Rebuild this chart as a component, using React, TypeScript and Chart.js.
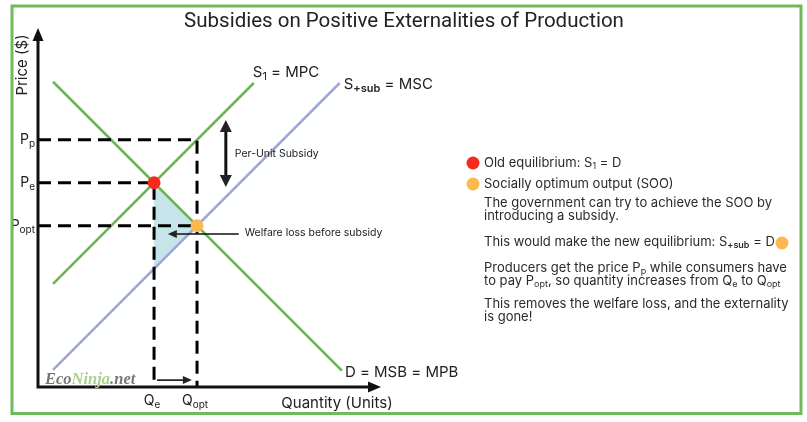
import React, { useEffect, useRef } from "react";
import { Chart, registerables } from "chart.js";
Chart.register(...registerables);

// ---- data (quantity / price units) ----
const demandQ = [0.35, 7.07];
const demandP = [7.1, 0.38];
const mpcQ = [0.35, 5.02];
const mpcP = [2.4, 7.07];
const mscQ = [0.35, 7.02];
const mscP = [0.4, 7.07];
const qTickValues = [2.7, 3.7];
const qTickMain = ["Q", "Q"];
const qTickSub = ["e", "opt"];
const pTickValues = [5.75, 4.75, 3.75];
const pTickMain = ["P", "P", "P"];
const pTickSub = ["p", "e", "opt"];
const oldEquilibrium = [2.7, 4.75];
const socialOptimum = [3.7, 3.75];
const welfareLossQ = [2.7, 3.7, 2.7];
const welfareLossP = [4.75, 3.75, 2.75];
const subsidyArrowQ = [4.37, 4.37];
const subsidyArrowP = [6.21, 4.65];
const welfareArrowQ = [4.67, 3.02];
const welfareArrowP = [3.56, 3.56];
const qShiftArrowQ = [2.77, 3.58];
const qShiftArrowP = [0.16, 0.16];

const FONT = "Inter, 'Noto Sans', sans-serif";
const GREEN = "#6cb556";
const BLUE = "#9ea7d9";
const RED = "#f42a1c";
const ORANGE = "#fdb94f";

type Seg = { t: string; sub?: boolean; bold?: boolean };

function drawRich(
  ctx: CanvasRenderingContext2D,
  segs: Seg[],
  x: number,
  y: number,
  size: number,
  align: "left" | "center" | "right" = "left",
  color = "#222"
) {
  const subSize = Math.round(size * 0.7);
  const fontFor = (s: Seg) =>
    `${s.bold ? "600 " : ""}${s.sub ? subSize : size}px ${FONT}`;
  let total = 0;
  for (const s of segs) {
    ctx.font = fontFor(s);
    total += ctx.measureText(s.t).width;
  }
  let cx = x;
  if (align === "center") cx = x - total / 2;
  if (align === "right") cx = x - total;
  ctx.fillStyle = color;
  ctx.textBaseline = "middle";
  ctx.textAlign = "left";
  for (const s of segs) {
    ctx.font = fontFor(s);
    ctx.fillText(s.t, cx, s.sub ? y + size * 0.28 : y);
    cx += ctx.measureText(s.t).width;
  }
}

function arrowHead(
  ctx: CanvasRenderingContext2D,
  tx: number,
  ty: number,
  dx: number,
  dy: number,
  len: number,
  half: number
) {
  const n = Math.hypot(dx, dy);
  const ux = dx / n;
  const uy = dy / n;
  ctx.beginPath();
  ctx.moveTo(tx, ty);
  ctx.lineTo(tx - ux * len - uy * half, ty - uy * len + ux * half);
  ctx.lineTo(tx - ux * len + uy * half, ty - uy * len - ux * half);
  ctx.closePath();
  ctx.fill();
}

const decorPlugin = {
  id: "decor",
  beforeDatasetsDraw(chart: any) {
    const ctx: CanvasRenderingContext2D = chart.ctx;
    const xs = chart.scales.x;
    const ys = chart.scales.y;
    ctx.save();
    ctx.fillStyle = "#c6e5ea";
    ctx.beginPath();
    welfareLossQ.forEach((q, i) => {
      const px = xs.getPixelForValue(q);
      const py = ys.getPixelForValue(welfareLossP[i]);
      if (i === 0) ctx.moveTo(px, py);
      else ctx.lineTo(px, py);
    });
    ctx.closePath();
    ctx.fill();
    ctx.restore();
  },
  afterDatasetsDraw(chart: any) {
    const ctx: CanvasRenderingContext2D = chart.ctx;
    const xs = chart.scales.x;
    const ys = chart.scales.y;
    const ca = chart.chartArea;
    const X = (v: number) => xs.getPixelForValue(v);
    const Y = (v: number) => ys.getPixelForValue(v);
    ctx.save();

    // axes
    ctx.strokeStyle = "#111";
    ctx.fillStyle = "#111";
    ctx.lineWidth = 3;
    ctx.beginPath();
    ctx.moveTo(X(0), Y(0) + 1.5);
    ctx.lineTo(X(0), ca.top + 10);
    ctx.moveTo(X(0) - 1.5, Y(0));
    ctx.lineTo(ca.right - 10, Y(0));
    ctx.stroke();
    arrowHead(ctx, X(0), ca.top, 0, -1, 13, 5.5);
    arrowHead(ctx, ca.right, Y(0), 1, 0, 13, 5.5);

    // tick labels
    qTickValues.forEach((q, i) => {
      drawRich(ctx, [{ t: qTickMain[i] }, { t: qTickSub[i], sub: true }], X(q) - 2, Y(0) + 14, 14, "center");
    });
    pTickValues.forEach((p, i) => {
      drawRich(ctx, [{ t: pTickMain[i] }, { t: pTickSub[i], sub: true }], X(0) - 3, Y(p), 14, "right");
    });

    // axis titles
    ctx.save();
    ctx.translate(22, 65);
    ctx.rotate(-Math.PI / 2);
    drawRich(ctx, [{ t: "Price ($)" }], 0, 0, 15, "center");
    ctx.restore();
    drawRich(ctx, [{ t: "Quantity (Units)" }], 337, 403, 15, "center");

    // curve labels
    drawRich(ctx, [{ t: "S" }, { t: "1", sub: true }, { t: " = MPC" }], X(mpcQ[1]) - 1, Y(mpcP[1]) - 11, 15, "left");
    drawRich(ctx, [{ t: "S" }, { t: "+sub", sub: true, bold: true }, { t: " = MSC" }], X(mscQ[1]) + 4, Y(mscP[1]) + 1, 15, "left");
    drawRich(ctx, [{ t: "D = MSB = MPB" }], X(demandQ[1]) + 3, Y(demandP[1]) + 2, 15, "left");

    // per-unit subsidy arrow
    ctx.lineWidth = 3;
    const sx = X(subsidyArrowQ[0]);
    const sy1 = Y(subsidyArrowP[0]);
    const sy2 = Y(subsidyArrowP[1]);
    ctx.beginPath();
    ctx.moveTo(sx, sy1 + 10);
    ctx.lineTo(sx, sy2 - 10);
    ctx.stroke();
    arrowHead(ctx, sx, sy1, 0, -1, 12, 6);
    arrowHead(ctx, sx, sy2, 0, 1, 12, 6);
    drawRich(ctx, [{ t: "Per-Unit Subsidy" }], sx + 9, (sy1 + sy2) / 2, 10.5, "left", "#222");

    // welfare loss arrow
    ctx.lineWidth = 1.6;
    const wx1 = X(welfareArrowQ[0]);
    const wx2 = X(welfareArrowQ[1]);
    const wy = Y(welfareArrowP[0]);
    ctx.beginPath();
    ctx.moveTo(wx1, wy);
    ctx.lineTo(wx2 + 6, wy);
    ctx.stroke();
    arrowHead(ctx, wx2, wy, -1, 0, 9, 4);
    drawRich(ctx, [{ t: "Welfare loss before subsidy" }], wx1 + 6, wy - 1, 10.5, "left", "#222");

    // Q shift arrow
    const qx1 = X(qShiftArrowQ[0]);
    const qx2 = X(qShiftArrowQ[1]);
    const qy = Y(qShiftArrowP[0]);
    ctx.beginPath();
    ctx.moveTo(qx1, qy);
    ctx.lineTo(qx2 - 6, qy);
    ctx.stroke();
    arrowHead(ctx, qx2, qy, 1, 0, 9, 4);

    // watermark
    ctx.font = `italic bold 16.5px 'Liberation Serif', 'DejaVu Serif', serif`;
    ctx.textBaseline = "alphabetic";
    ctx.textAlign = "left";
    let wmx = 45;
    const wmy = 384;
    const parts: [string, string][] = [["Eco", "#777777"], ["Ninja", "#a9d18e"], [".net", "#777777"]];
    for (const [t, c] of parts) {
      ctx.fillStyle = c;
      ctx.fillText(t, wmx, wmy);
      wmx += ctx.measureText(t).width;
    }

    // title
    ctx.font = `20.5px Roboto, 'Liberation Sans', sans-serif`;
    ctx.fillStyle = "#222";
    ctx.textAlign = "center";
    ctx.textBaseline = "middle";
    ctx.fillText("Subsidies on Positive Externalities of Production", 404, 22);

    // right panel
    const dot = (x: number, y: number, c: string) => {
      ctx.fillStyle = c;
      ctx.beginPath();
      ctx.arc(x, y, 6.5, 0, Math.PI * 2);
      ctx.fill();
    };
    const tx = 484;
    const fs = 13;
    const col = "#2a2a2a";
    dot(473, 163, RED);
    drawRich(ctx, [{ t: "Old equilibrium: S" }, { t: "1", sub: true }, { t: " = D" }], tx, 163, fs, "left", col);
    dot(473, 184, ORANGE);
    drawRich(ctx, [{ t: "Socially optimum output (SOO)" }], tx, 184, fs, "left", col);
    drawRich(ctx, [{ t: "The government can try to achieve the SOO by" }], tx, 203, fs, "left", col);
    drawRich(ctx, [{ t: "introducing a subsidy." }], tx, 216, fs, "left", col);
    drawRich(ctx, [{ t: "This would make the new equilibrium: S" }, { t: "+sub", sub: true, bold: true }, { t: " = D" }], tx, 242, fs, "left", col);
    dot(782, 243, ORANGE);
    drawRich(ctx, [{ t: "Producers get the price P" }, { t: "p", sub: true }, { t: " while consumers have" }], tx, 268, fs, "left", col);
    drawRich(ctx, [{ t: "to pay P" }, { t: "opt", sub: true }, { t: ", so quantity increases from Q" }, { t: "e", sub: true }, { t: " to Q" }, { t: "opt", sub: true }], tx, 281, fs, "left", col);
    drawRich(ctx, [{ t: "This removes the welfare loss, and the externality" }], tx, 304, fs, "left", col);
    drawRich(ctx, [{ t: "is gone!" }], tx, 317, fs, "left", col);

    // frame
    ctx.strokeStyle = "#72b95b";
    ctx.lineWidth = 3;
    ctx.strokeRect(12, 6, 789, 407.5);
    ctx.restore();
  },
};

const pts = (qs: number[], ps: number[]) => qs.map((q, i) => ({ x: q, y: ps[i] }));

export default function App() {
  const ref = useRef<HTMLCanvasElement | null>(null);
  useEffect(() => {
    if (!ref.current) return;
    const dash = [13, 7];
    const lineBase = { showLine: true, pointRadius: 0, fill: false, clip: false as any };
    const chart = new Chart(ref.current, {
      type: "scatter",
      data: {
        datasets: [
          {
            label: "Old equilibrium",
            data: [{ x: oldEquilibrium[0], y: oldEquilibrium[1] }],
            pointRadius: 6.5,
            pointBackgroundColor: RED,
            pointBorderWidth: 0,
            clip: false as any,
          },
          {
            label: "Socially optimum output",
            data: [{ x: socialOptimum[0], y: socialOptimum[1] }],
            pointRadius: 6.5,
            pointBackgroundColor: ORANGE,
            pointBorderWidth: 0,
            clip: false as any,
          },
          {
            ...lineBase,
            label: "Pp guide",
            data: [
              { x: 0, y: pTickValues[0] },
              { x: qTickValues[1], y: pTickValues[0] },
              { x: qTickValues[1], y: 0 },
            ],
            borderColor: "#000",
            borderWidth: 3,
            borderDash: dash,
          },
          {
            ...lineBase,
            label: "Pe guide",
            data: [
              { x: 0, y: pTickValues[1] },
              { x: qTickValues[0], y: pTickValues[1] },
              { x: qTickValues[0], y: 0 },
            ],
            borderColor: "#000",
            borderWidth: 3,
            borderDash: dash,
          },
          {
            ...lineBase,
            label: "Popt guide",
            data: [
              { x: 0, y: pTickValues[2] },
              { x: qTickValues[1], y: pTickValues[2] },
            ],
            borderColor: "#000",
            borderWidth: 3,
            borderDash: dash,
          },
          { ...lineBase, label: "D = MSB = MPB", data: pts(demandQ, demandP), borderColor: GREEN, borderWidth: 2.6 },
          { ...lineBase, label: "S1 = MPC", data: pts(mpcQ, mpcP), borderColor: GREEN, borderWidth: 2.6 },
          { ...lineBase, label: "S+sub = MSC", data: pts(mscQ, mscP), borderColor: BLUE, borderWidth: 2.6 },
        ],
      },
      options: {
        animation: false,
        responsive: true,
        maintainAspectRatio: false,
        layout: { padding: { left: 38, right: 426, top: 28, bottom: 35 } },
        plugins: { legend: { display: false }, tooltip: { enabled: false }, title: { display: false } },
        scales: {
          x: { type: "linear", min: 0, max: 7.98, display: false },
          y: { type: "linear", min: 0, max: 8.35, display: false },
        },
        events: [],
      },
      plugins: [decorPlugin],
    });
    return () => chart.destroy();
  }, []);
  return (
    <div style={{ position: "absolute", left: 0, top: 0, width: 807, height: 422, background: "#fff" }}>
      <canvas ref={ref} />
    </div>
  );
}
